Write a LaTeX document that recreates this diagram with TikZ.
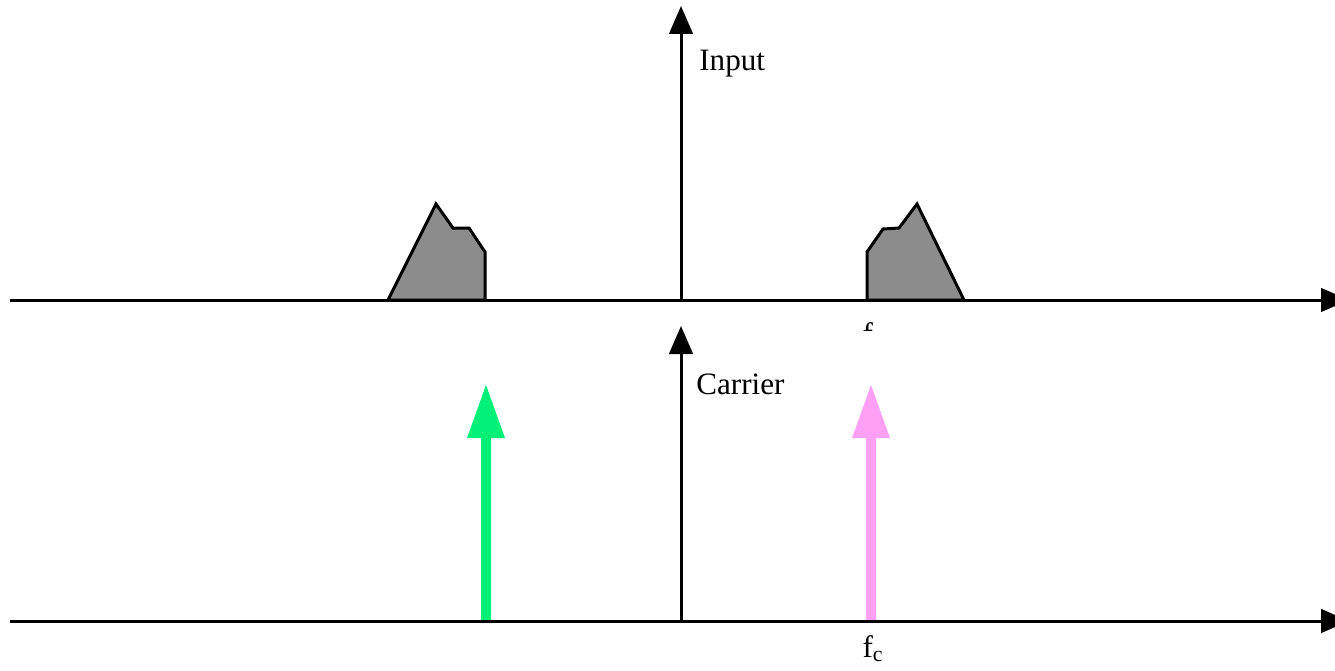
\documentclass[tikz,border=0pt]{standalone}
\usepackage{fontspec}
\setmainfont{Liberation Serif}
\usetikzlibrary{arrows.meta}
\definecolor{cgreen}{RGB}{0,240,120}
\definecolor{cpink}{RGB}{255,160,245}
\definecolor{cgray}{RGB}{140,140,140}
\begin{document}
\begin{tikzpicture}[x=0.02cm,y=-0.02cm,
  axis/.style={line width=0.06cm,-{Triangle[length=0.56cm,width=0.47cm]}},
  band/.style={draw=black,fill=cgray,line width=0.06cm,line join=miter},
  lbl/.style={font=\fontsize{17.7}{20}\selectfont,inner sep=0pt}]
\useasboundingbox (0,0) rectangle (1335,670);
\clip (0,0) rectangle (1335,670);
% top panel
\coordinate (tl) at (10,300);
\coordinate (tr) at (1349,300);
\coordinate (to) at (681,300);
\coordinate (tt) at (681,6);
\draw[band] (388,300) -- (436,204) -- (453,228) -- (469,228) -- (485,252) -- (485,300) -- cycle;
\draw[band] (867,300) -- (867,252) -- (883,229) -- (899,228) -- (917,204) -- (964,300) -- cycle;
\draw[axis] (tl) -- (tr);
\draw[axis] (to) -- (tt);
\node[lbl,anchor=west] (inp) at (699,64) {Input};
\begin{scope}
\clip (0,0) rectangle (1335,330);
\node[lbl,anchor=base] (fct) at (873,344) {f\textsubscript{c}};
\end{scope}
% bottom panel
\coordinate (bl) at (10,621);
\coordinate (br) at (1349,621);
\coordinate (bo) at (681,621);
\coordinate (bt) at (681,326);
\fill[cgreen] (481,621) rectangle (491,436) (467,438) -- (486,385) -- (505,438) -- cycle;
\fill[cpink] (866,621) rectangle (876,436) (852,438) -- (871,385) -- (890,438) -- cycle;
\draw[axis] (bl) -- (br);
\draw[axis] (bo) -- (bt);
\node[lbl,anchor=west] (car) at (696,384) {Carrier};
\node[lbl,anchor=base] (fc) at (873,657) {f\textsubscript{c}};
\end{tikzpicture}
\end{document}
